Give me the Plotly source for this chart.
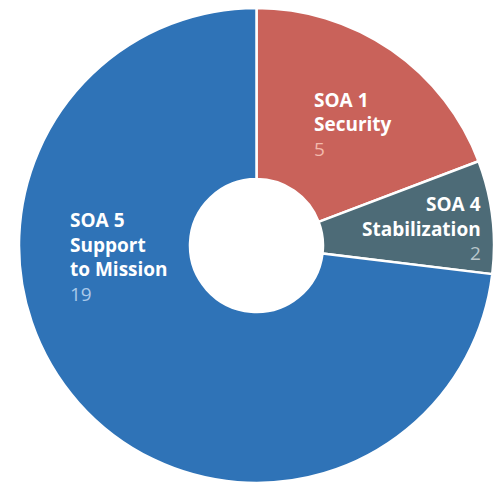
import plotly.graph_objects as go

# Data
labels = ["SOA 1", "SOA 4", "SOA 5"]
names = [["Security"], ["Stabilization"], ["Support", "to Mission"]]
values = [5, 2, 19]
colors = ["#C9625A", "#4D6B77", "#2F73B7"]
num_colors = ["#F2B9AC", "#B9C6CB", "#A9C9EA"]

W, H = 496, 485
cx, cy, r = 256.5, 245.5, 237.5

fig = go.Figure(go.Pie(
    labels=labels,
    values=values,
    marker=dict(colors=colors, line=dict(color="white", width=2.5)),
    hole=0.28,
    sort=False,
    direction="clockwise",
    rotation=0,
    textinfo="none",
    hoverinfo="label+value",
    showlegend=False,
    domain=dict(x=[(cx - r) / W, (cx + r) / W],
                y=[(H - cy - r) / H, (H - cy + r) / H]),
))

# label placement (pixels): x, first line y-center, anchor
placements = [(312, 100, "right" if False else "left"), (483, 204, "right"), (68, 220, "left")]
line_gap = 24.5
FONT = "Open Sans, Noto Sans, sans-serif"
for lab, nm, val, nc, (px, py, anc) in zip(labels, names, values, num_colors, placements):
    lines = [(f"<b>{lab}</b>", "white")] + [(f"<b>{p}</b>", "white") for p in nm] + [(str(val), nc)]
    for i, (t, c) in enumerate(lines):
        fig.add_annotation(
            x=px / W, y=1 - (py + i * line_gap) / H, xref="paper", yref="paper",
            xanchor=anc, yanchor="middle", align=anc,
            text=t, showarrow=False,
            font=dict(family=FONT, size=19, color=c),
        )

fig.update_layout(
    width=W, height=H,
    margin=dict(l=0, r=0, t=0, b=0),
    paper_bgcolor="white",
    plot_bgcolor="white",
)

fig.write_html("out.html", config={"displayModeBar": False},
               post_script="document.body.style.margin='0';document.body.style.overflow='hidden';")
